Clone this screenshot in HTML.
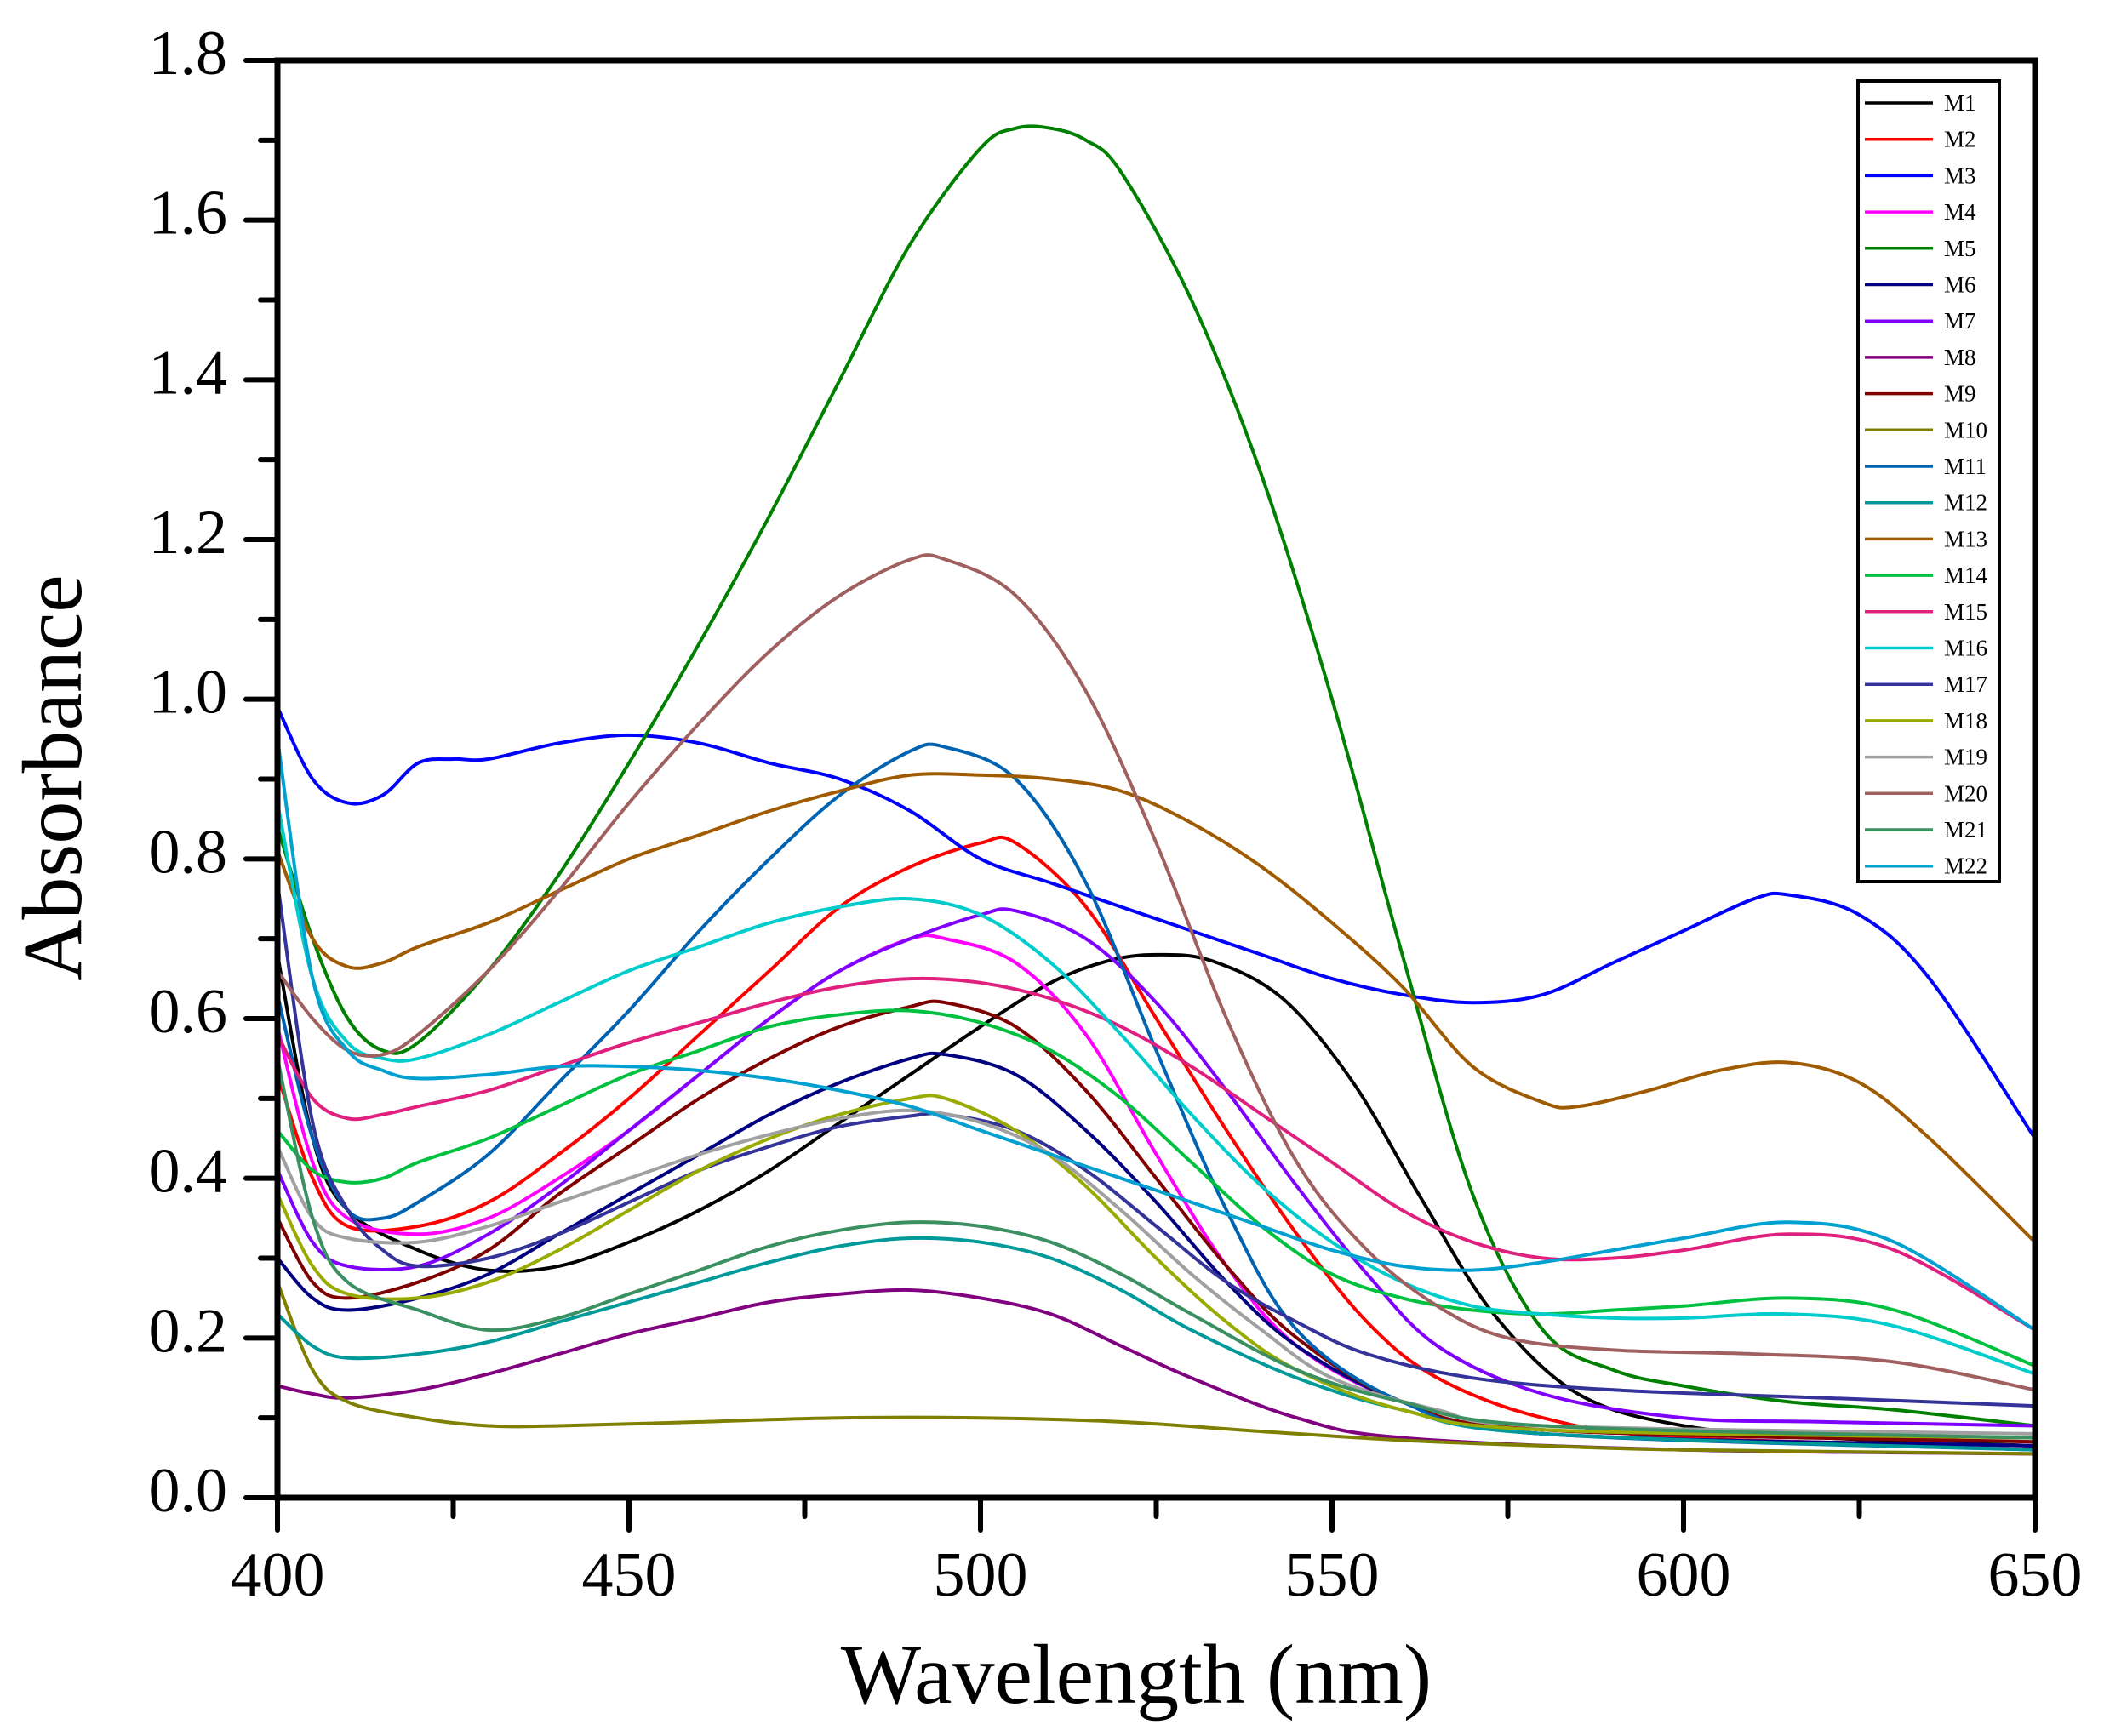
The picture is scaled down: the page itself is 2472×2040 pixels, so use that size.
<!DOCTYPE html>
<html><head><meta charset="utf-8"><style>
html,body{margin:0;padding:0;background:#fff;}
svg{display:block;}
text{font-family:"Liberation Serif",serif;fill:#000;}
</style></head><body>
<svg id="s" width="2472" height="2040" xmlns="http://www.w3.org/2000/svg"></svg>
<script>
const L=326,R=2391,T=71,B=1760;
const X=w=>L+(w-400)*(R-L)/250, Y=a=>B-a*(B-T)/1.8;
const D={
"M1":["#000000",[[400,.68],[405,.45],[410,.36],[420,.31],[430,.285],[440,.29],[450,.32],[460,.36],[470,.41],[480,.47],[490,.53],[500,.59],[510,.645],[518,.672],[525,.68],[533,.672],[543,.625],[553,.52],[563,.37],[573,.23],[585,.13],[600,.09],[620,.075],[650,.065]]],
"M2":["#ff0000",[[400,.53],[405,.4],[410,.34],[420,.34],[430,.37],[440,.43],[450,.5],[460,.58],[470,.66],[480,.74],[490,.79],[500,.82],[505,.82],[515,.74],[525,.6],[535,.46],[545,.33],[555,.22],[565,.15],[580,.1],[600,.075],[650,.065]]],
"M3":["#0000ff",[[400,.99],[405,.9],[410,.87],[415,.88],[420,.92],[425,.925],[430,.925],[440,.945],[450,.955],[460,.945],[470,.92],[480,.9],[490,.86],[500,.8],[510,.77],[520,.74],[530,.71],[540,.68],[550,.65],[560,.63],[570,.62],[580,.63],[590,.67],[600,.71],[610,.75],[615,.755],[625,.73],[635,.65],[650,.45]]],
"M4":["#ff00ff",[[400,.59],[405,.42],[410,.35],[420,.33],[430,.35],[440,.4],[450,.46],[460,.53],[470,.6],[480,.66],[490,.7],[495,.7],[505,.67],[515,.58],[525,.43],[535,.29],[545,.19],[560,.12],[580,.08],[650,.065]]],
"M5":["#008000",[[400,.84],[405,.7],[410,.6],[415,.56],[420,.57],[430,.66],[440,.78],[450,.92],[460,1.07],[470,1.23],[480,1.4],[490,1.57],[500,1.69],[505,1.715],[510,1.715],[515,1.7],[520,1.66],[530,1.5],[540,1.28],[550,1.0],[560,.68],[570,.38],[580,.21],[590,.16],[600,.14],[615,.12],[630,.11],[650,.09]]],
"M6":["#000080",[[400,.3],[405,.25],[410,.235],[420,.25],[430,.28],[440,.33],[450,.38],[460,.43],[470,.48],[480,.52],[490,.55],[495,.555],[505,.53],[515,.46],[525,.37],[535,.27],[545,.19],[560,.12],[580,.08],[650,.065]]],
"M7":["#8000ff",[[400,.41],[405,.32],[410,.29],[420,.29],[430,.33],[440,.39],[450,.46],[460,.53],[470,.6],[480,.66],[490,.7],[500,.73],[505,.735],[515,.7],[525,.62],[535,.51],[545,.39],[555,.28],[565,.19],[580,.13],[600,.1],[620,.095],[650,.09]]],
"M8":["#800080",[[400,.14],[405,.13],[410,.125],[420,.135],[430,.155],[440,.18],[450,.205],[460,.225],[470,.245],[480,.255],[490,.26],[500,.25],[510,.23],[520,.19],[530,.15],[545,.1],[560,.075],[600,.06],[650,.055]]],
"M9":["#800000",[[400,.35],[405,.27],[410,.25],[420,.27],[430,.31],[440,.38],[450,.44],[460,.5],[470,.55],[480,.59],[490,.615],[495,.62],[505,.59],[515,.51],[525,.4],[535,.29],[545,.2],[560,.12],[580,.085],[650,.07]]],
"M10":["#808000",[[400,.27],[405,.16],[410,.12],[420,.1],[430,.09],[440,.09],[460,.095],[480,.1],[500,.1],[520,.095],[540,.083],[560,.072],[580,.065],[600,.06],[650,.055]]],
"M11":["#0063b1",[[400,.63],[405,.45],[410,.36],[415,.35],[420,.37],[430,.43],[440,.52],[450,.61],[460,.71],[470,.8],[480,.88],[490,.935],[495,.94],[505,.9],[515,.77],[525,.56],[535,.36],[545,.21],[560,.12],[580,.08],[650,.06]]],
"M12":["#009999",[[400,.23],[405,.19],[410,.175],[420,.18],[430,.195],[440,.22],[450,.245],[460,.27],[470,.295],[480,.315],[490,.325],[500,.32],[510,.3],[520,.26],[530,.21],[545,.15],[560,.11],[580,.08],[650,.06]]],
"M13":["#a05a00",[[400,.81],[405,.7],[410,.665],[415,.67],[420,.69],[430,.72],[440,.76],[450,.8],[460,.83],[470,.86],[480,.885],[490,.905],[500,.905],[510,.9],[520,.885],[530,.845],[540,.79],[550,.72],[560,.64],[570,.54],[580,.495],[585,.49],[595,.51],[605,.535],[615,.545],[625,.52],[635,.45],[650,.32]]],
"M14":["#00c040",[[400,.46],[405,.41],[410,.395],[415,.4],[420,.42],[430,.45],[440,.49],[450,.53],[460,.56],[470,.59],[480,.605],[490,.61],[500,.595],[510,.56],[520,.5],[530,.42],[540,.34],[550,.28],[560,.25],[570,.235],[580,.23],[590,.235],[600,.24],[615,.25],[630,.235],[650,.165]]],
"M15":["#e0207f",[[400,.58],[405,.5],[410,.475],[415,.48],[420,.49],[430,.51],[440,.54],[450,.57],[460,.595],[470,.62],[480,.64],[490,.65],[500,.645],[510,.625],[520,.59],[530,.54],[540,.48],[550,.42],[560,.36],[570,.32],[580,.3],[590,.3],[600,.31],[615,.33],[630,.31],[650,.21]]],
"M16":["#00cccc",[[400,.87],[405,.65],[410,.57],[415,.55],[420,.55],[430,.58],[440,.62],[450,.66],[460,.69],[470,.72],[480,.74],[490,.75],[500,.73],[510,.67],[520,.58],[530,.48],[540,.39],[550,.32],[560,.27],[570,.24],[580,.23],[590,.225],[600,.225],[615,.23],[630,.215],[650,.155]]],
"M17":["#333399",[[400,.77],[405,.47],[410,.36],[415,.31],[420,.29],[430,.3],[440,.33],[450,.37],[460,.41],[470,.44],[480,.465],[490,.478],[495,.48],[505,.46],[515,.41],[525,.34],[535,.27],[545,.22],[555,.18],[570,.15],[590,.135],[620,.125],[650,.115]]],
"M18":["#99aa00",[[400,.38],[405,.29],[410,.255],[420,.25],[430,.27],[440,.31],[450,.36],[460,.41],[470,.45],[480,.48],[490,.5],[495,.5],[505,.46],[515,.39],[525,.3],[535,.22],[545,.16],[560,.11],[580,.085],[650,.075]]],
"M19":["#a0a0a0",[[400,.44],[405,.35],[410,.325],[420,.32],[430,.34],[440,.37],[450,.4],[460,.43],[470,.455],[480,.475],[490,.485],[500,.47],[510,.43],[520,.36],[530,.28],[540,.21],[550,.15],[565,.11],[580,.09],[650,.08]]],
"M20":["#a06060",[[400,.66],[405,.6],[410,.56],[415,.555],[420,.58],[430,.66],[440,.76],[450,.87],[460,.97],[470,1.06],[480,1.13],[490,1.175],[495,1.175],[505,1.13],[515,1.01],[525,.82],[535,.6],[545,.42],[555,.31],[565,.24],[575,.2],[590,.185],[610,.18],[630,.17],[650,.135]]],
"M21":["#3a9060",[[400,.55],[405,.35],[410,.27],[420,.235],[430,.21],[440,.225],[450,.255],[460,.285],[470,.315],[480,.335],[490,.345],[500,.34],[510,.32],[520,.28],[530,.23],[545,.16],[560,.12],[580,.09],[650,.075]]],
"M22":["#00a0d0",[[400,.95],[405,.65],[410,.56],[415,.535],[420,.525],[430,.53],[440,.54],[450,.54],[460,.535],[470,.525],[480,.51],[490,.49],[500,.46],[510,.43],[520,.4],[530,.37],[540,.34],[550,.31],[560,.29],[570,.285],[580,.295],[590,.31],[600,.325],[615,.345],[630,.32],[650,.21]]]
};
function path(pts){
  const p=pts.map(q=>[X(q[0]),Y(q[1])]);
  let d="M"+p[0][0].toFixed(1)+","+p[0][1].toFixed(1);
  for(let i=0;i<p.length-1;i++){
    const p0=p[Math.max(0,i-1)],p1=p[i],p2=p[i+1],p3=p[Math.min(p.length-1,i+2)];
    const c1=[p1[0]+(p2[0]-p0[0])/6,p1[1]+(p2[1]-p0[1])/6];
    const c2=[p2[0]-(p3[0]-p1[0])/6,p2[1]-(p3[1]-p1[1])/6];
    d+="C"+c1.map(v=>v.toFixed(1))+" "+c2.map(v=>v.toFixed(1))+" "+p2.map(v=>v.toFixed(1));
  }
  return d;
}
let h='';
for(const k in D){h+=`<path d="${path(D[k][1])}" fill="none" stroke="${D[k][0]}" stroke-width="4"/>`;}
h+=`<rect x="${L}" y="${T}" width="${R-L}" height="${B-T}" fill="none" stroke="#000" stroke-width="7"/>`;
for(let i=0;i<=18;i++){const y=Y(i/10);const len=i%2?20:37;h+=`<line x1="${L-len}" y1="${y}" x2="${L}" y2="${y}" stroke="#000" stroke-width="6" stroke-linecap="round"/>`;
 if(i%2==0)h+=`<text x="267" y="${y+16}" font-size="74" text-anchor="end">${(i/10).toFixed(1)}</text>`;}
for(let w=400;w<=650;w+=25){const x=X(w);const len=(w%50)?22:38;h+=`<line x1="${x}" y1="${B}" x2="${x}" y2="${B+len}" stroke="#000" stroke-width="6" stroke-linecap="round"/>`;
 if(w%50==0)h+=`<text x="${x}" y="1875" font-size="74" text-anchor="middle">${w}</text>`;}
h+=`<text x="1335" y="2001" font-size="100" text-anchor="middle">Wavelength (nm)</text>`;
h+=`<text transform="translate(95,914) rotate(-90)" font-size="100" text-anchor="middle">Absorbance</text>`;
h+=`<rect x="2183" y="95" width="166" height="941" fill="#fff" stroke="#000" stroke-width="4"/>`;
let i=0;for(const k in D){const y=121+i*42.7;h+=`<line x1="2191" y1="${y}" x2="2271" y2="${y}" stroke="${D[k][0]}" stroke-width="3.5"/><text x="2284" y="${y+9}" font-size="27">${k}</text>`;i++;}
document.getElementById('s').innerHTML=h;
</script>
</body></html>
